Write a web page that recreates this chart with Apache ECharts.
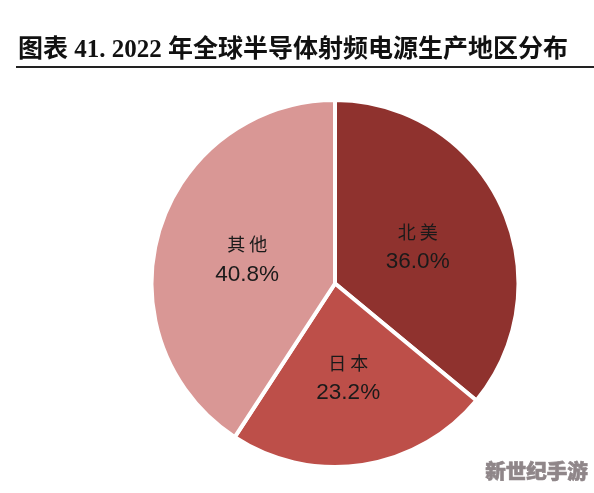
<!DOCTYPE html>
<html lang="zh" style="height: 100%">
<head>
  <meta charset="utf-8">
</head>
<body style="height: 100%; margin: 0; background: #fff">
  <div id="container" style="height: 100%"></div>
  <script src="https://cdn.jsdelivr.net/npm/echarts@6/dist/echarts.min.js"></script>
  <script>
    var regions = ['北美', '日本', '其他'];
    var shares = [36.0, 23.2, 40.8];
    var sliceColors = ['#8f322e', '#bd4f49', '#d99795'];
    var labelNudge = [[-3, 4], [-1, 1], [3, 3]];
    var chartTitle = '图表 41. 2022 年全球半导体射频电源生产地区分布';
    var watermark = '新世纪手游';

    var myChart = echarts.init(document.getElementById('container'), null, { renderer: 'canvas' });

    var pieData = regions.map(function (name, i) {
      return {
        name: name,
        value: shares[i],
        itemStyle: { color: sliceColors[i] },
        label: { offset: labelNudge[i] }
      };
    });

    var option = {
      animation: false,
      backgroundColor: '#ffffff',
      title: {
        text: chartTitle,
        left: 13,
        top: 33,
        textStyle: {
          fontFamily: '"Liberation Serif", "Noto Sans CJK SC"',
          fontSize: 25,
          fontWeight: 'bold',
          color: '#111111'
        }
      },
      graphic: [
        {
          type: 'rect',
          shape: { x: 16, y: 66, width: 578, height: 2 },
          style: { fill: '#222222' }
        },
        {
          type: 'text',
          left: 485,
          top: 461,
          style: {
            text: watermark,
            font: '900 20.5px "Noto Sans CJK SC"',
            fill: '#8f8689',
            stroke: '#8f8689',
            lineWidth: 0.6
          }
        }
      ],
      series: [
        {
          type: 'pie',
          center: [335, 283.5],
          radius: [0, 183.5],
          startAngle: 90,
          clockwise: true,
          data: pieData,
          itemStyle: { borderColor: '#ffffff', borderWidth: 4 },
          labelLine: { show: false },
          label: {
            position: 'inside',
            formatter: function (p) {
              return '{name|' + p.name.split('').join(' ') + '}\n{val|' + p.value.toFixed(1) + '%}';
            },
            rich: {
              name: { fontFamily: '"Noto Sans CJK SC"', fontSize: 18, color: '#1a1a1a', lineHeight: 30 },
              val: { fontFamily: '"Liberation Sans"', fontSize: 22.5, color: '#1a1a1a', lineHeight: 30 }
            }
          }
        }
      ]
    };

    myChart.setOption(option);
    window.addEventListener('resize', myChart.resize);
  </script>
</body>
</html>
